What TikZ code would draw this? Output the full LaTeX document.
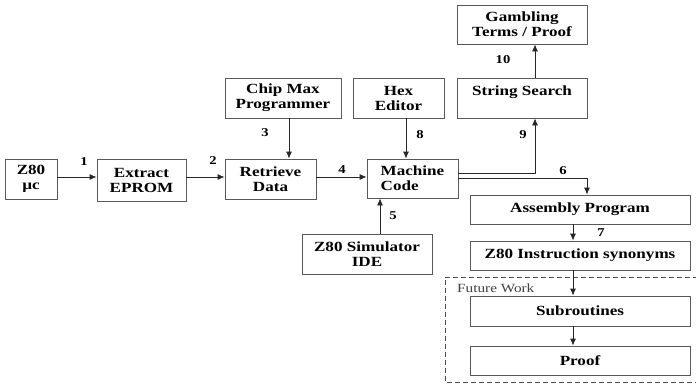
\documentclass[tikz,border=0pt]{standalone}
\usepackage{fontspec}
\setmainfont{Liberation Serif}[FakeStretch=1.22]
\usetikzlibrary{arrows.meta}
\begin{document}
\begin{tikzpicture}[x=1pt, y=-1pt, >={Latex[length=7pt,width=6pt]},
    blk/.style={draw=black!65, line width=0.8pt, align=center, inner sep=1pt,
        font=\fontsize{14}{15}\selectfont\bfseries},
    num/.style={font=\fontsize{12}{12}\selectfont\bfseries, inner sep=0pt},
    flow/.style={->, line width=0.8pt, draw=black!85}]
    \useasboundingbox (0,0) rectangle (696,384);
    \node[blk, minimum width=52, minimum height=40] (z80) at (31,179) {Z80\\µc};
    \node[blk, minimum width=89, minimum height=42] (extract) at (141.5,180) {Extract\\EPROM};
    \node[blk, minimum width=91, minimum height=40] (retrieve) at (270.5,179) {Retrieve\\Data};
    \node[blk, minimum width=116, minimum height=40] (chipmax) at (283,98) {Chip Max\\Programmer};
    \node[blk, minimum width=91, minimum height=40] (hex) at (398.5,98) {Hex\\Editor};
    \node[blk, minimum width=91, minimum height=39, align=left] (machine) at (412.5,178.5) {Machine\\Code};
    \node[blk, minimum width=130, minimum height=40] (sim) at (367,254) {Z80 Simulator\\IDE};
    \node[blk, minimum width=130, minimum height=39] (gambling) at (522,24.5) {Gambling\\Terms / Proof};
    \node[blk, minimum width=130, minimum height=40, text depth=14pt] (search) at (522,98) {String Search};
    \node[blk, minimum width=220, minimum height=29] (assembly) at (580,209.5) {Assembly Program};
    \node[blk, minimum width=220, minimum height=29] (synonyms) at (580,255.5) {Z80 Instruction synonyms};
    \node[blk, minimum width=220, minimum height=30] (subroutines) at (580,311) {Subroutines};
    \node[blk, minimum width=220, minimum height=29] (proof) at (580,360.5) {Proof};
    \draw[dashed, dash pattern=on 5pt off 3pt, line width=0.8pt, black!70]
        (698,277) -- (445,277) -- (445,382) -- (698,382);
    \node[anchor=west, inner sep=0pt, black!75, font=\fontsize{12.5}{13}\selectfont] (future) at (457,288) {Future Work};
    \draw[flow] ([yshift=2pt]z80.east) -- ([yshift=2pt]z80.east -| extract.west);
    \draw[flow] ([yshift=3pt]extract.east) -- ([yshift=3pt]extract.east -| retrieve.west);
    \draw[flow] ([xshift=6pt]chipmax.south) -- ([xshift=6pt]chipmax.south |- retrieve.north);
    \draw[flow] ([yshift=2pt]retrieve.east) -- ([yshift=2pt]retrieve.east -| machine.west);
    \draw[flow] ([xshift=13pt]sim.north) -- ([xshift=13pt]sim.north |- machine.south);
    \draw[flow] ([xshift=7.5pt]hex.south) -- ([xshift=7.5pt]hex.south |- machine.north);
    \draw[flow] ([yshift=5.5pt]machine.east) -| ([xshift=13pt]search.south);
    \draw[flow] ([yshift=0.5pt]machine.east) -| ([xshift=7pt]assembly.north);
    \draw[flow] ([xshift=13pt]search.north) -- ([xshift=13pt]search.north |- gambling.south);
    \draw[flow] ([xshift=-7pt]assembly.south) -- ([xshift=-7pt]synonyms.north);
    \draw[flow] ([xshift=-7pt]synonyms.south) -- ([xshift=-7pt]subroutines.north);
    \draw[flow] ([xshift=-7pt]subroutines.south) -- ([xshift=-7pt]proof.north);
    \node[num] (n1) at (84,162) {1};
    \node[num] (n2) at (213,161) {2};
    \node[num] (n3) at (265,133) {3};
    \node[num] (n4) at (342,170) {4};
    \node[num] (n5) at (393,216) {5};
    \node[num] (n6) at (563,171) {6};
    \node[num] (n7) at (601,233) {7};
    \node[num] (n8) at (420,135) {8};
    \node[num] (n9) at (523,135) {9};
    \node[num] (n10) at (503,60) {10};
\end{tikzpicture}
\end{document}
